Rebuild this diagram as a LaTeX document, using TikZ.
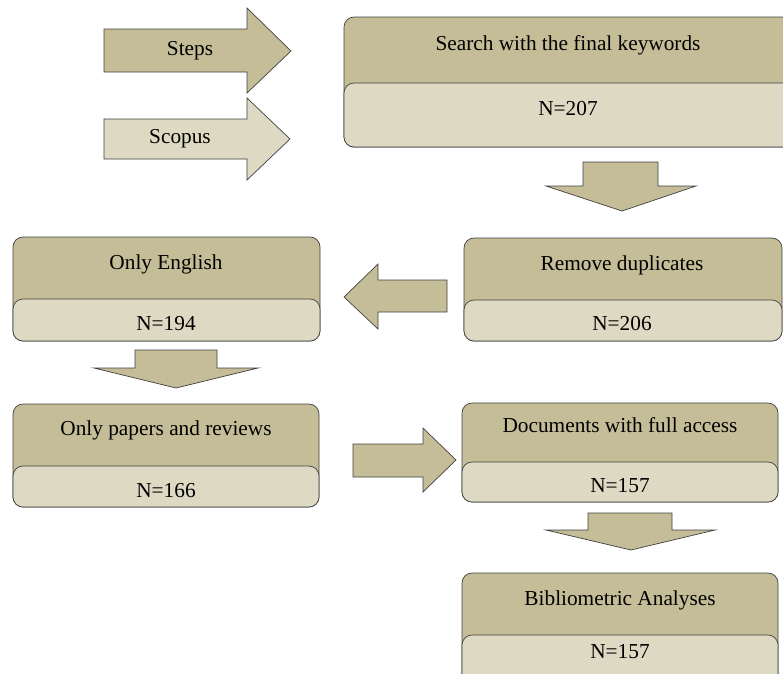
\documentclass[tikz,border=0pt]{standalone}
\usepackage{fontspec}
\setmainfont{Liberation Serif}
\definecolor{tanD}{HTML}{C4BD97}
\definecolor{tanL}{HTML}{DDD9C3}
\definecolor{edge}{HTML}{404040}
\tikzset{
  darkpart/.style={fill=tanD,draw=edge,line width=0.7pt,rounded corners=10pt},
  lightpart/.style={fill=tanL,draw=edge,line width=0.7pt,rounded corners=10pt},
  blockarrow/.style={fill=tanD,draw=edge,line width=0.7pt,line join=miter},
  blockarrowL/.style={fill=tanL,draw=edge,line width=0.7pt,line join=miter},
  lbl/.style={anchor=base,inner sep=0pt,font=\fontsize{21.3}{25}\selectfont}
}
% #1 x1, #2 y1, #3 x2, #4 ydiv, #5 y2
\newcommand\twobox[5]{%
  \draw[darkpart] (#1,#2) rectangle (#3,#5);
  \draw[lightpart] (#1,#4) rectangle (#3,#5);
}
\begin{document}
\begin{tikzpicture}[x=1pt,y=-1pt]
\useasboundingbox (0,0) rectangle (783,673);
\clip (0,0) rectangle (783,673);
% side arrows
\draw[blockarrow] (104,29) -- (247,29) -- (247,8) -- (291,51) -- (247,93) -- (247,72) -- (104,72) -- cycle;
\node[lbl] (steps) at (190,55) {Steps};
\draw[blockarrowL] (104,119) -- (247,119) -- (247,98) -- (290,139) -- (247,180) -- (247,159) -- (104,159) -- cycle;
\node[lbl] (scopus) at (180,143) {Scopus};
% boxes
\twobox{344}{17}{810}{83}{147}
\node[lbl] (searchT) at (568,50) {Search with the final keywords};
\node[lbl] (searchN) at (568,115) {N=207};
\twobox{464}{238}{782}{300}{341}
\node[lbl] (removeT) at (622,270) {Remove duplicates};
\node[lbl] (removeN) at (622,330) {N=206};
\twobox{13}{237}{320}{299}{341}
\node[lbl] (englishT) at (166,269) {Only English};
\node[lbl] (englishN) at (166,330) {N=194};
\twobox{13}{404}{319}{466}{507}
\node[lbl] (papersT) at (166,435) {Only papers and reviews};
\node[lbl] (papersN) at (166,497) {N=166};
\twobox{462}{403}{778}{462}{502}
\node[lbl] (docsT) at (620,432) {Documents with full access};
\node[lbl] (docsN) at (620,492) {N=157};
\twobox{462}{573}{778}{635}{690}
\node[lbl] (biblioT) at (620,605) {Bibliometric Analyses};
\node[lbl] (biblioN) at (620,658) {N=157};
% flow arrows
\draw[blockarrow] (583,162) -- (658,162) -- (658,186) -- (696,186) -- (622,211) -- (546,186) -- (583,186) -- cycle;
\draw[blockarrow] (447,280) -- (447,312) -- (378,312) -- (378,329) -- (344,297) -- (378,264) -- (378,280) -- cycle;
\draw[blockarrow] (135,350) -- (217,350) -- (217,368) -- (258,368) -- (176,388) -- (94,368) -- (135,368) -- cycle;
\draw[blockarrow] (353,444) -- (423,444) -- (423,428) -- (456,460) -- (423,492) -- (423,477) -- (353,477) -- cycle;
\draw[blockarrow] (588,513) -- (672,513) -- (672,530) -- (715,530) -- (631,550) -- (546,530) -- (588,530) -- cycle;
\end{tikzpicture}
\end{document}
